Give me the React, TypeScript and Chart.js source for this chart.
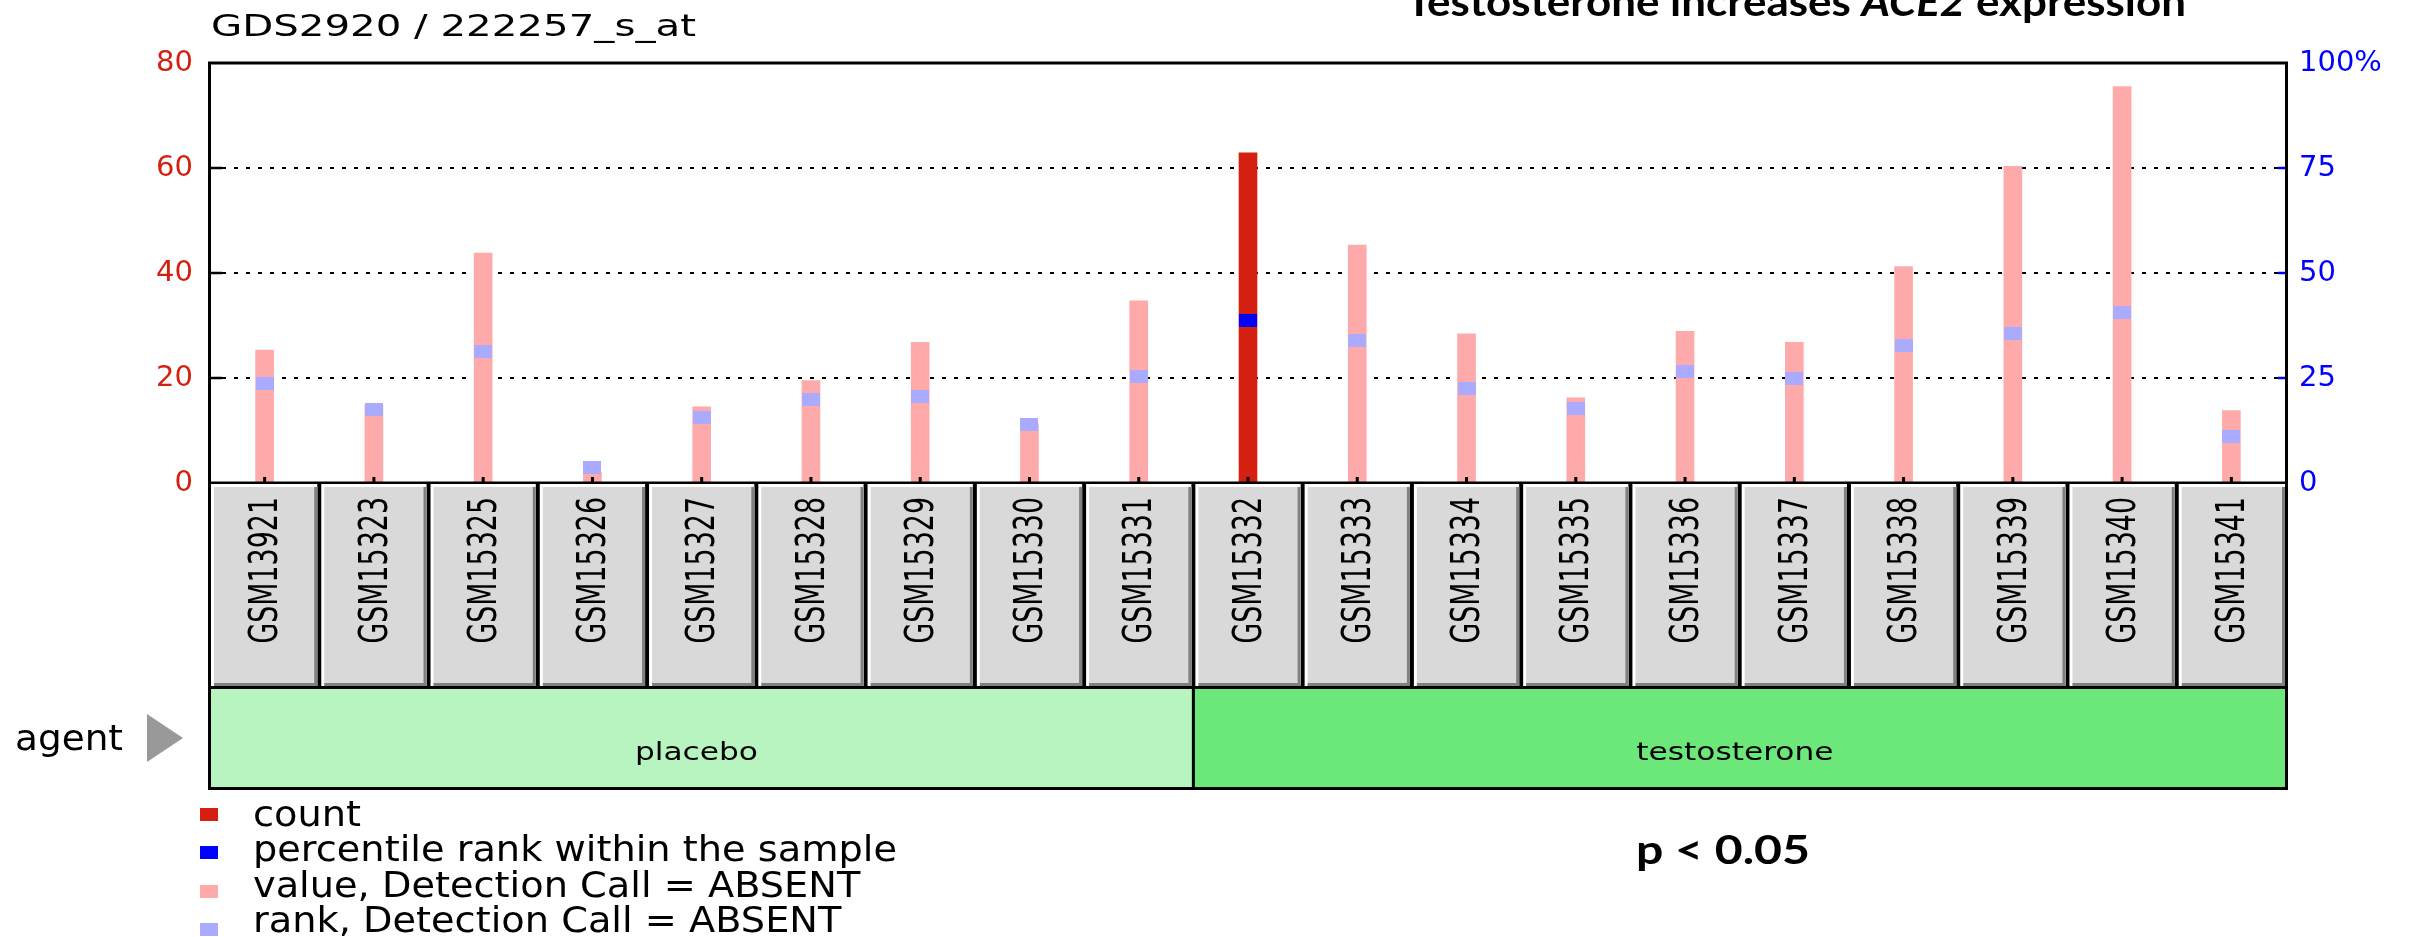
import React, { useEffect, useRef } from 'react';
import { Chart, registerables } from 'chart.js';

Chart.register(...registerables);

// ---------- data ----------
const samples = [
  'GSM13921', 'GSM15323', 'GSM15325', 'GSM15326', 'GSM15327', 'GSM15328', 'GSM15329',
  'GSM15330', 'GSM15331', 'GSM15332', 'GSM15333', 'GSM15334', 'GSM15335', 'GSM15336',
  'GSM15337', 'GSM15338', 'GSM15339', 'GSM15340', 'GSM15341',
];
const agents = [
  'placebo', 'placebo', 'placebo', 'placebo', 'placebo', 'placebo', 'placebo', 'placebo', 'placebo',
  'testosterone', 'testosterone', 'testosterone', 'testosterone', 'testosterone',
  'testosterone', 'testosterone', 'testosterone', 'testosterone', 'testosterone',
];
const countValues = [25.3, 14.8, 43.8, 2.0, 14.5, 19.5, 26.8, 11.3, 34.7, 62.9, 45.3, 28.4, 16.2, 28.9, 26.8, 41.2, 60.3, 75.5, 13.8];
const percentileRanks = [23.7, 17.5, 31.3, 3.6, 15.5, 20.0, 20.7, 14.0, 25.4, 38.7, 33.9, 22.4, 17.7, 26.5, 25.0, 32.8, 35.7, 40.5, 11.0];
const detectionCalls = ['A', 'A', 'A', 'A', 'A', 'A', 'A', 'A', 'A', 'P', 'A', 'A', 'A', 'A', 'A', 'A', 'A', 'A', 'A'];
const countAxis = { min: 0, max: 80, step: 20 };
const rankAxis = { min: 0, max: 100, step: 25 };
const legendLabels = [
  'count',
  'percentile rank within the sample',
  'value, Detection Call = ABSENT',
  'rank, Detection Call = ABSENT',
];
const chartTitle = 'GDS2920 / 222257_s_at';
const pValueText = 'p < 0.05';

// ---------- styles ----------
const RED = '#d42010';
const PINK = '#ffaaaa';
const BLUE = '#0000ff';
const LIGHT_BLUE = '#aaaaff';
const AGENT_COLORS: Record<string, string> = { placebo: '#b8f4c0', testosterone: '#6ce87a' };
const GEO_FONT = 'DejaVu Sans';

function makeMarker(color: string) {
  const c = document.createElement('canvas');
  c.width = 18;
  c.height = 13;
  const g = c.getContext('2d')!;
  g.fillStyle = color;
  g.fillRect(0, 0, 18, 13);
  return c;
}

function fitText(ctx: CanvasRenderingContext2D, text: string, x: number, y: number, width: number, font: string) {
  ctx.font = font;
  const w = ctx.measureText(text).width;
  ctx.save();
  ctx.translate(x, y);
  ctx.scale(width / w, 1);
  ctx.textAlign = 'left';
  ctx.textBaseline = 'alphabetic';
  ctx.fillText(text, 0, 0);
  ctx.restore();
}

const decorPlugin = {
  id: 'geoDecor',
  afterDraw(chart: any) {
    const { ctx, chartArea: a, scales } = chart;
    const x = scales.x;
    const y = scales.y;
    const y2 = scales.y2;
    const n = samples.length;
    const step = x.getPixelForValue(1) - x.getPixelForValue(0);
    const bounds = samples.map((_, i) => {
      const c = x.getPixelForValue(i);
      return [c - step / 2, c + step / 2];
    });

    ctx.save();

    // inward ticks
    ctx.fillStyle = '#000';
    for (let v = countAxis.min + countAxis.step; v < countAxis.max; v += countAxis.step) {
      const py = y.getPixelForValue(v);
      ctx.fillRect(a.left, py - 1.25, 12, 2.5);
    }
    ctx.fillStyle = BLUE;
    for (let v = rankAxis.min + rankAxis.step; v < rankAxis.max; v += rankAxis.step) {
      const py = y2.getPixelForValue(v);
      ctx.fillRect(a.right - 8, py - 1.25, 8, 2.5);
    }
    ctx.fillStyle = '#000';
    samples.forEach((_, i) => {
      const cx = x.getPixelForValue(i);
      ctx.fillRect(cx - 1.5, a.bottom - 6, 3, 6);
    });

    // frame
    ctx.strokeStyle = '#000';
    ctx.lineWidth = 3;
    ctx.strokeRect(a.left - 0.5, a.top, a.right - a.left + 1, a.bottom - a.top);

    // sample boxes + agent band
    const rowTop = a.bottom + 1;
    const boxEnd = rowTop + 202;
    const bandTop = boxEnd + 3;
    const bandEnd = bandTop + 98;
    const end = bandEnd + 3;
    ctx.fillStyle = '#000';
    ctx.fillRect(a.left - 2, a.bottom, a.right - a.left + 4, end - a.bottom);

    ctx.font = `20px "${GEO_FONT}"`;
    const refW = ctx.measureText('GSM15323').width;
    const lsx = 146.6 / refW;
    const capH = 20 * 0.729;
    const lsy = 28.3 / capH;

    samples.forEach((s, i) => {
      const x0 = bounds[i][0] + (i === 0 ? 1 : 2);
      const x1 = bounds[i][1] - (i === n - 1 ? 1 : 2);
      ctx.fillStyle = '#ffffff';
      ctx.fillRect(x0, rowTop, x1 - x0, boxEnd - rowTop);
      ctx.fillStyle = '#d9d9d9';
      ctx.fillRect(x0 + 3, rowTop + 3, x1 - x0 - 3, boxEnd - rowTop - 3);
      ctx.fillStyle = '#808080';
      ctx.fillRect(x1 - 3, rowTop + 3, 3, boxEnd - rowTop - 3);
      ctx.fillRect(x0 + 3, boxEnd - 3, x1 - x0 - 3, 3);

      const cx = x.getPixelForValue(i);
      ctx.save();
      ctx.translate(cx + 12.7, rowTop + 13);
      ctx.rotate(-Math.PI / 2);
      ctx.scale(lsx, lsy);
      ctx.fillStyle = '#000';
      ctx.font = `20px "${GEO_FONT}"`;
      ctx.textAlign = 'right';
      ctx.textBaseline = 'alphabetic';
      ctx.fillText(s, 0, 0);
      ctx.restore();
    });

    // agent groups
    const groups: { name: string; i0: number; i1: number }[] = [];
    agents.forEach((g, i) => {
      const last = groups[groups.length - 1];
      if (last && last.name === g) last.i1 = i;
      else groups.push({ name: g, i0: i, i1: i });
    });
    ctx.font = `24px "${GEO_FONT}"`;
    const bandScale = 123 / ctx.measureText('placebo').width;
    groups.forEach((g) => {
      const gx0 = bounds[g.i0][0] + (g.i0 === 0 ? 1 : 1.5);
      const gx1 = bounds[g.i1][1] - (g.i1 === n - 1 ? 1 : 1.5);
      ctx.fillStyle = AGENT_COLORS[g.name];
      ctx.fillRect(gx0, bandTop, gx1 - gx0, bandEnd - bandTop);
      ctx.fillStyle = '#000';
      ctx.font = `24px "${GEO_FONT}"`;
      const w = ctx.measureText(g.name).width * bandScale;
      fitText(ctx, g.name, (gx0 + gx1) / 2 - w / 2 - 5, bandTop + 71, w, `24px "${GEO_FONT}"`);
    });

    // "agent" label + arrow
    ctx.fillStyle = '#000';
    fitText(ctx, 'agent', 15, 750, 108, `36px "${GEO_FONT}"`);
    ctx.fillStyle = '#999999';
    ctx.beginPath();
    ctx.moveTo(147, 714);
    ctx.lineTo(183, 738);
    ctx.lineTo(147, 762);
    ctx.closePath();
    ctx.fill();

    // legend
    const legendColors = [RED, BLUE, PINK, LIGHT_BLUE];
    const legendSquares = [808, 846, 885, 923];
    const legendBase = [826, 861, 897, 932];
    ctx.font = `36px "${GEO_FONT}"`;
    const legScale = 644 / ctx.measureText(legendLabels[1]).width;
    legendLabels.forEach((t, i) => {
      ctx.fillStyle = legendColors[i];
      ctx.fillRect(200, legendSquares[i], 18, 13);
      ctx.fillStyle = '#000';
      ctx.font = `36px "${GEO_FONT}"`;
      const w = ctx.measureText(t).width * legScale;
      fitText(ctx, t, 253, legendBase[i], w, `36px "${GEO_FONT}"`);
    });

    // top-left title
    ctx.fillStyle = '#000';
    fitText(ctx, chartTitle, 211, 36, 485, `31px "${GEO_FONT}"`);

    // top-right title (clipped)
    const parts = [
      { t: 'Testosterone increases ', f: 'bold 40px Lato' },
      { t: 'ACE2', f: 'italic bold 40px Lato' },
      { t: ' expression', f: 'bold 40px Lato' },
    ];
    let total = 0;
    parts.forEach((p) => { ctx.font = p.f; total += ctx.measureText(p.t).width; });
    const tsx = 780 / total;
    let cursor = 1406;
    parts.forEach((p) => {
      ctx.font = p.f;
      const w = ctx.measureText(p.t).width * tsx;
      fitText(ctx, p.t, cursor, 16, w, p.f);
      cursor += w;
    });

    // p value
    fitText(ctx, pValueText, 1636, 864, 174, 'bold 40px Lato');

    ctx.restore();
  },
};

export default function App() {
  const ref = useRef<HTMLCanvasElement>(null);

  useEffect(() => {
    const blueMarker = makeMarker(BLUE);
    const lightMarker = makeMarker(LIGHT_BLUE);
    const chart = new Chart(ref.current!, {
      type: 'bar',
      data: {
        labels: samples,
        datasets: [
          {
            type: 'line',
            label: 'rank',
            data: percentileRanks,
            yAxisID: 'y2',
            showLine: false,
            pointStyle: detectionCalls.map((d) => (d === 'P' ? blueMarker : lightMarker)) as any,
            pointRadius: 7,
            pointHoverRadius: 7,
            order: 0,
          },
          {
            type: 'bar',
            label: 'value',
            data: countValues,
            yAxisID: 'y',
            backgroundColor: detectionCalls.map((d) => (d === 'P' ? RED : PINK)),
            borderWidth: 0,
            barThickness: 18,
            order: 1,
          },
        ] as any,
      },
      options: {
        responsive: false,
        devicePixelRatio: 1,
        animation: false,
        layout: { padding: { left: 0, right: 0, top: 63, bottom: 454 } },
        plugins: { legend: { display: false }, tooltip: { enabled: false }, title: { display: false } },
        scales: {
          x: { type: 'category', display: false, offset: true },
          y: {
            position: 'left',
            min: countAxis.min,
            max: countAxis.max,
            ticks: {
              stepSize: countAxis.step,
              color: RED,
              padding: 17,
              font: { family: GEO_FONT, size: 29 },
            },
            grid: {
              drawTicks: false,
              lineWidth: 2,
              color: (c: any) => (c.tick && (c.tick.value === countAxis.min || c.tick.value === countAxis.max) ? 'rgba(0,0,0,0)' : '#000'),
              borderDash: [4, 8],
            } as any,
            border: { display: false, dash: [4, 8] },
            afterFit: (s: any) => { s.width = 210; },
          },
          y2: {
            position: 'right',
            min: rankAxis.min,
            max: rankAxis.max,
            ticks: {
              stepSize: rankAxis.step,
              color: BLUE,
              padding: 13,
              font: { family: GEO_FONT, size: 29 },
              callback: (v: any) => (v === rankAxis.max ? `${v}%` : `${v}`),
            },
            grid: { display: false, drawTicks: false },
            border: { display: false },
            afterFit: (s: any) => { s.width = 131; },
          },
        },
      } as any,
      plugins: [decorPlugin],
    });
    return () => chart.destroy();
  }, []);

  return (
    <div style={{ position: 'absolute', left: 0, top: 0, width: 2417, height: 937 }}>
      <canvas ref={ref} width={2417} height={937} style={{ display: 'block' }} />
    </div>
  );
}
